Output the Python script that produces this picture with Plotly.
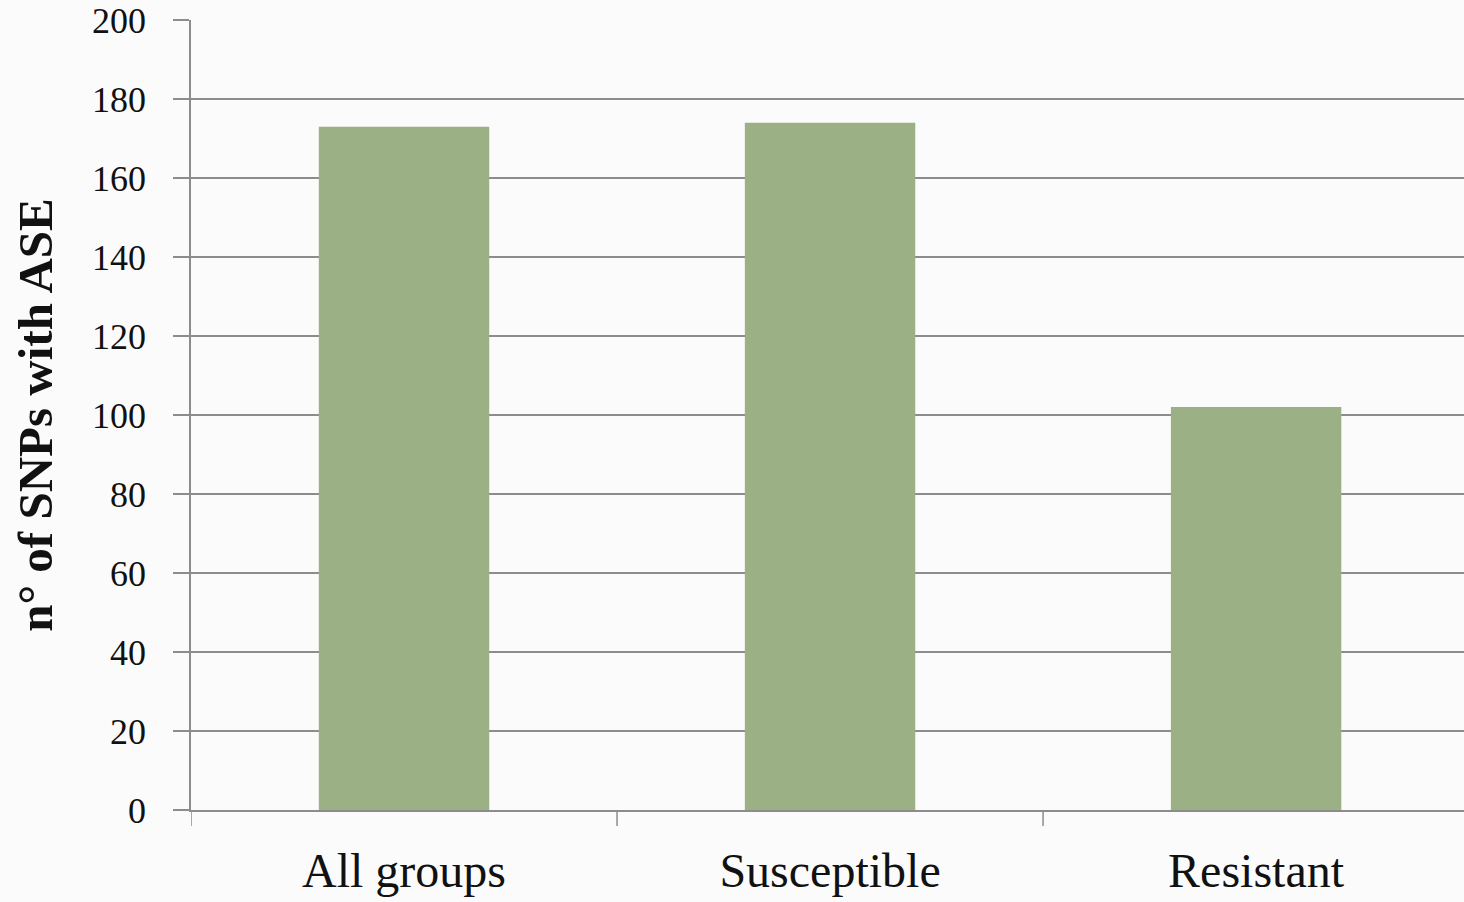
import plotly.graph_objects as go

# Number of SNPs showing allele-specific expression per group
groups = ["All groups", "Susceptible", "Resistant"]
snp_counts = [173, 174, 102]
y_ticks = [0, 20, 40, 60, 80, 100, 120, 140, 160, 180, 200]

BAR_COLOR = "#9bb084"
GRID_COLOR = "#8c8c8c"
FONT = "Liberation Serif"

fig = go.Figure(
    go.Bar(
        x=groups,
        y=snp_counts,
        width=0.4,
        marker=dict(color=BAR_COLOR, line=dict(width=0)),
    )
)

fig.update_layout(
    width=1464,
    height=902,
    margin=dict(l=191, r=0, t=20, b=92),
    paper_bgcolor="#fbfbfb",
    plot_bgcolor="#fbfbfb",
    showlegend=False,
    font=dict(family=FONT, color="#111111"),
)

fig.update_xaxes(
    range=[-0.5, 2.488],
    showgrid=False,
    showline=True,
    linecolor=GRID_COLOR,
    linewidth=1.5,
    ticks="",
    tickfont=dict(size=48, family=FONT, color="#111111"),
    ticklabelstandoff=18,
)

fig.update_yaxes(
    range=[0, 200],
    tickvals=y_ticks,
    showgrid=True,
    gridcolor=GRID_COLOR,
    gridwidth=1.5,
    showline=True,
    linecolor=GRID_COLOR,
    linewidth=1.5,
    ticks="outside",
    ticklen=16,
    tickwidth=1.5,
    tickcolor=GRID_COLOR,
    tickfont=dict(size=36, family=FONT, color="#111111"),
    ticklabelstandoff=20,
    zeroline=False,
    title=dict(
        text="n° of SNPs with ASE",
        font=dict(size=49, family=FONT, color="#111111", weight="bold"),
        standoff=24,
    ),
)

# Category separator ticks below the baseline
for xb in [-0.5, 0.5, 1.5]:
    fig.add_shape(
        type="line",
        xref="x",
        yref="paper",
        x0=xb, x1=xb,
        y0=0, y1=-16 / 790,
        line=dict(color=GRID_COLOR, width=1.5),
    )

fig.write_html("out.html")
